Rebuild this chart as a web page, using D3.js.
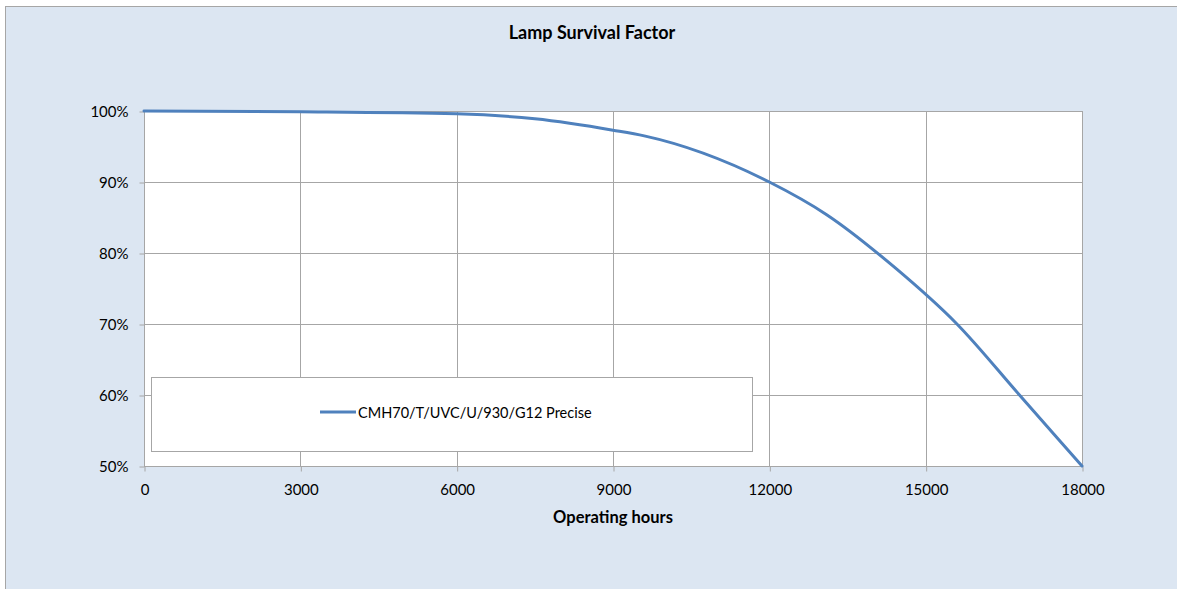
<!DOCTYPE html>
<html>
<head>
<meta charset="utf-8">
<script src="https://cdn.jsdelivr.net/npm/d3@7"></script>
<style>
  html, body { margin: 0; padding: 0; background: #ffffff; }
  svg { display: block; }
  text { font-family: Lato, "Open Sans", "Liberation Sans", sans-serif; fill: #000; }
</style>
</head>
<body>
<svg id="chart" width="1177" height="589"></svg>
<script>
// ---- data ----
const hours    = [0, 3000, 6000, 7500, 9000, 9600, 12000, 13100, 14400, 15600, 16800, 18000];
const survival = [100, 99.9, 99.6, 98.9, 97.3, 96.5, 90.0, 85.4, 78.0, 70.0, 60.0, 50.0];
const xTicks = [0, 3000, 6000, 9000, 12000, 15000, 18000];
const yTicks = [50, 60, 70, 80, 90, 100];
const seriesName = "CMH70/T/UVC/U/930/G12 Precise";
const chartTitle = "Lamp Survival Factor";
const xTitle = "Operating hours";

// ---- layout ----
const W = 1177, H = 589;
const plot = { left: 144, right: 1082, top: 111, bottom: 466 };
const svg = d3.select("#chart");

// outer chart area
svg.append("rect").attr("x", 5.5).attr("y", 6.5).attr("width", W + 10).attr("height", H + 10)
  .attr("fill", "#dce6f2").attr("stroke", "#a6a6a6").attr("stroke-width", 1);

const x = d3.scaleLinear().domain([0, 18000]).range([plot.left, plot.right]);
const y = d3.scaleLinear().domain([50, 100]).range([plot.bottom, plot.top]);

// plot area
svg.append("rect").attr("x", plot.left).attr("y", plot.top)
  .attr("width", plot.right - plot.left).attr("height", plot.bottom - plot.top)
  .attr("fill", "#ffffff");

const gridColor = "#a6a6a6";
// gridlines
svg.append("g").selectAll("line.h").data(yTicks).join("line")
  .attr("x1", plot.left).attr("x2", plot.right)
  .attr("y1", d => Math.round(y(d)) + 0.5).attr("y2", d => Math.round(y(d)) + 0.5)
  .attr("stroke", gridColor).attr("stroke-width", 1);
svg.append("g").selectAll("line.v").data(xTicks).join("line")
  .attr("y1", plot.top).attr("y2", plot.bottom)
  .attr("x1", d => Math.round(x(d)) + 0.5).attr("x2", d => Math.round(x(d)) + 0.5)
  .attr("stroke", gridColor).attr("stroke-width", 1);

// axes
const xAxis = d3.axisBottom(x).tickValues(xTicks).tickSize(5).tickPadding(13).tickFormat(d3.format("d"));
const gx = svg.append("g").attr("transform", `translate(0.5,${Math.round(plot.bottom) + 0.5})`).call(xAxis);
gx.select(".domain").attr("stroke", gridColor).attr("d", `M${plot.left},0H${plot.right}`);
gx.selectAll(".tick line").attr("stroke", gridColor);
gx.selectAll(".tick text").attr("font-size", 15).attr("font-family", "Lato, sans-serif").attr("fill", "#000");

const yAxis = d3.axisLeft(y).tickValues(yTicks).tickSize(5).tickPadding(11).tickFormat(d => d + "%");
const gy = svg.append("g").attr("transform", `translate(${Math.round(plot.left) + 0.5},0.5)`).call(yAxis);
gy.select(".domain").attr("stroke", gridColor).attr("d", `M0,${plot.top}V${plot.bottom}`);
gy.selectAll(".tick line").attr("stroke", gridColor);
gy.selectAll(".tick text").attr("font-size", 15).attr("font-family", "Lato, sans-serif").attr("fill", "#000");

// legend
const lg = svg.append("g");
lg.append("rect").attr("x", 151.5).attr("y", 377.5).attr("width", 601).attr("height", 74)
  .attr("fill", "#ffffff").attr("stroke", "#a6a6a6");
lg.append("line").attr("x1", 320).attr("x2", 356).attr("y1", 412).attr("y2", 412)
  .attr("stroke", "#4f81bd").attr("stroke-width", 3);
lg.append("text").attr("x", 358).attr("y", 413).attr("dy", "0.35em")
  .attr("font-size", 14.5).text(seriesName);

// series line
const data = hours.map((h, i) => ({ h, v: survival[i] }));
const line = d3.line().x(d => x(d.h)).y(d => y(d.v)).curve(d3.curveMonotoneX);
svg.append("path").datum(data).attr("d", line)
  .attr("fill", "none").attr("stroke", "#4f81bd").attr("stroke-width", 3)
  .attr("stroke-linejoin", "round").attr("stroke-linecap", "round");

// titles
svg.append("text").attr("x", 592).attr("y", 33).attr("dy", "0.35em").attr("text-anchor", "middle")
  .attr("font-size", 18).attr("font-weight", "bold").text(chartTitle);
svg.append("text").attr("x", 613).attr("y", 517).attr("dy", "0.35em").attr("text-anchor", "middle")
  .attr("font-size", 16.5).attr("font-weight", "bold").text(xTitle);
</script>
</body>
</html>
